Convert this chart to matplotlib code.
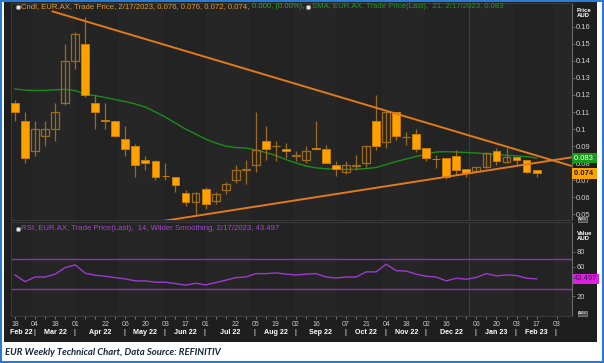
import numpy as np
import pandas as pd
import matplotlib
matplotlib.use("Agg")
import matplotlib.pyplot as plt
from matplotlib.patches import Rectangle
from matplotlib.lines import Line2D
from matplotlib.transforms import blended_transform_factory

plt.rcParams['font.family'] = ['Liberation Sans', 'DejaVu Sans']

# EUR.AX weekly candles, 18 Feb 2022 .. 17 Feb 2023
dates = pd.date_range('2022-02-18', periods=53, freq='W-FRI')
opens = [0.115, 0.105, 0.087, 0.096, 0.100, 0.115, 0.140, 0.150, 0.115, 0.1052,
         0.105, 0.094, 0.090, 0.082, 0.081, 0.0726, 0.072, 0.0625, 0.057, 0.065,
         0.058, 0.064, 0.070, 0.0762, 0.079, 0.093, 0.0898, 0.088, 0.0843, 0.082,
         0.089, 0.088, 0.079, 0.075, 0.0782, 0.080, 0.105, 0.0925, 0.110, 0.0953,
         0.097, 0.089, 0.0826, 0.083, 0.084, 0.0765, 0.0754, 0.0775, 0.087, 0.0805,
         0.0838, 0.0818, 0.076]
highs = [0.117, 0.110, 0.105, 0.105, 0.115, 0.150, 0.157, 0.166, 0.120, 0.115,
         0.105, 0.102, 0.091, 0.084, 0.082, 0.080, 0.072, 0.064, 0.063, 0.066,
         0.063, 0.069, 0.079, 0.082, 0.110, 0.102, 0.093, 0.092, 0.087, 0.090,
         0.105, 0.0906, 0.0815, 0.081, 0.0847, 0.0905, 0.120, 0.110, 0.110, 0.098,
         0.100, 0.089, 0.0847, 0.083, 0.0877, 0.0765, 0.078, 0.0865, 0.089, 0.089,
         0.0838, 0.0818, 0.076]
lows = [0.105, 0.080, 0.084, 0.090, 0.093, 0.114, 0.135, 0.119, 0.100, 0.100,
        0.0955, 0.084, 0.072, 0.076, 0.070, 0.070, 0.063, 0.055, 0.050, 0.053,
        0.056, 0.062, 0.0685, 0.068, 0.075, 0.082, 0.081, 0.083, 0.081, 0.080,
        0.0877, 0.080, 0.0726, 0.0736, 0.076, 0.078, 0.0877, 0.0887, 0.0935, 0.0906,
        0.0867, 0.081, 0.077, 0.0707, 0.073, 0.072, 0.0745, 0.0772, 0.079, 0.080,
        0.079, 0.074, 0.072]
closes = [0.110, 0.083, 0.100, 0.100, 0.110, 0.140, 0.156, 0.120, 0.110, 0.1048,
          0.096, 0.088, 0.079, 0.080, 0.072, 0.0722, 0.067, 0.057, 0.0625, 0.056,
          0.0617, 0.068, 0.076, 0.0766, 0.0877, 0.088, 0.0902, 0.087, 0.0847, 0.087,
          0.088, 0.080, 0.0765, 0.079, 0.0786, 0.090, 0.090, 0.110, 0.096, 0.0956,
          0.088, 0.083, 0.0822, 0.0717, 0.076, 0.074, 0.078, 0.086, 0.081, 0.0838,
          0.082, 0.075, 0.074]
sma21 = [0.1235, 0.1229, 0.1226, 0.1227, 0.1230, 0.1233, 0.1226, 0.1205, 0.1196, 0.1185,
         0.1173, 0.1161, 0.1147, 0.1129, 0.1100, 0.1070, 0.1035, 0.1000, 0.0971, 0.0941,
         0.0918, 0.0900, 0.0891, 0.0889, 0.0877, 0.0862, 0.0845, 0.0821, 0.0801, 0.0783,
         0.0772, 0.0767, 0.0764, 0.0763, 0.0764, 0.0768, 0.0774, 0.0792, 0.0809, 0.0824,
         0.0839, 0.0853, 0.0865, 0.0867, 0.0865, 0.0862, 0.0859, 0.0855, 0.0850, 0.0846,
         0.0842, 0.0838, 0.0830]
rsi14 = [48.8, 39.8, 46, 46, 49.8, 58.7, 62.3, 51.1, 48.4, 47,
         45.2, 43.5, 40.8, 40.8, 39, 39, 37.2, 35, 37.7, 35.4,
         38.5, 41.7, 45.2, 46, 50.6, 50.6, 51.5, 50, 48.8, 49.8,
         50.6, 46, 44.8, 46, 46, 52.9, 52.9, 63.3, 54.6, 54,
         49.8, 47, 46, 40.8, 44.4, 43, 45.5, 50.6, 47.5, 48.8,
         48, 44.4, 43.497]

# triangle trendlines (week index, price)
upper_x = [3.66, 55.5]
upper_y = [0.1692, 0.0783]
lower_x = [13.0, 55.5]
lower_y = [0.0444, 0.0834]

label_weeks = [0, 2, 4, 6, 9, 11, 13, 15, 17, 19, 22, 24, 26, 28, 30, 33, 35, 37,
               39, 41, 43, 46, 48, 50, 52, 54]

W, H = 604, 363
fig = plt.figure(figsize=(W / 100, H / 100), dpi=100, facecolor='white')


def fx(px):
    return px / W


def fy(py):
    return 1 - py / H


fig.patches.append(Rectangle((fx(4), fy(342)), fx(597) - fx(4), fy(1.5) - fy(342),
                             transform=fig.transFigure, facecolor='#1e1e1e',
                             edgecolor='none', zorder=-2))
fig.patches.append(Rectangle((fx(0.8), fy(362.2)), fx(603.2) - fx(0.8), fy(0.8) - fy(362.2),
                             transform=fig.transFigure, facecolor='none',
                             edgecolor='#2b7bd0', lw=1.5, zorder=-1))

ax = fig.add_axes([fx(11), fy(220), fx(572) - fx(11), fy(3) - fy(220)], zorder=1)
axr = fig.add_axes([fx(11), fy(316), fx(572) - fx(11), fy(222) - fy(316)], zorder=1)

x = np.arange(len(dates))
x0 = dates[0]
xlim = (-0.4, 55.53)


def week_idx(d):
    return (pd.Timestamp(d) - x0).days / 7


month_starts = pd.date_range('2022-02-01', '2023-04-01', freq='MS')

for a in (ax, axr):
    a.set_facecolor('#232323')
    a.set_xlim(*xlim)
    for k in range(len(month_starts) - 1):
        if k % 2 == 1:
            a.axvspan(week_idx(month_starts[k]), week_idx(month_starts[k + 1]),
                      color='#262626', lw=0, zorder=0)
    a.axvline(week_idx('2023-01-01'), color='#3c3c3c', lw=0.8, zorder=0.5)
    for s in ('top', 'bottom'):
        a.spines[s].set_color('#3a3a3a')
    a.spines['left'].set_color('#3a3a3a')
    a.spines['right'].set_color('#6a6a6a')
    a.yaxis.tick_right()
    a.tick_params(axis='y', colors='#6a6a6a', length=2, width=0.6, pad=1,
                  labelsize=5.5, labelcolor='#d0d0d0')

# ---- price panel
ax.set_ylim(0.0466, 0.174)
ax.plot(x, sma21, color='#1c8c1c', lw=1.0, zorder=2)

up_edge = '#9c6b22'
for i in x:
    o, h, l, c = opens[i], highs[i], lows[i], closes[i]
    ax.vlines(i, l, h, color=up_edge, lw=0.9, zorder=3)
    lo, hi = min(o, c), max(o, c)
    if c < o:
        ax.bar(i, hi - lo, bottom=lo, width=0.78, color='#ffa200',
               edgecolor='#c77c00', lw=0.7, zorder=3.5)
    else:
        ax.bar(i, hi - lo, bottom=lo, width=0.78, color='none',
               edgecolor=up_edge, lw=0.9, zorder=3.5)

ax.plot(upper_x, upper_y, color='#e07a1c', lw=1.4, zorder=4, solid_capstyle='butt')
ax.plot(lower_x, lower_y, color='#e07a1c', lw=1.4, zorder=4, solid_capstyle='butt')

pt = np.arange(0.05, 0.165, 0.01)
ax.set_yticks(pt)
ax.set_yticklabels([f"{v:.2f}".rstrip('0') for v in pt])
ax.set_xticks([])

yt = ax.get_yaxis_transform()
ax.text(1.004, sma21[-1], '0.083 ', transform=yt, fontsize=5.5, color='white',
        va='center', ha='left', clip_on=False, zorder=10,
        bbox=dict(boxstyle='square,pad=0.25', fc='#1a9a1a', ec='none'))
ax.text(1.004, closes[-1], '0.074 ', transform=yt, fontsize=5.5, color='#202020',
        va='center', ha='left', clip_on=False, zorder=10, fontweight='bold',
        bbox=dict(boxstyle='square,pad=0.25', fc='#ffa200', ec='none'))
fig.text(fx(577), fy(13), 'Price\nAUD', fontsize=4.3, fontweight='bold', color='white',
         va='center', ha='left', linespacing=1.15)

# ---- RSI panel
axr.set_ylim(-6.4, 120)
axr.axhline(70, color='#8e2fb8', lw=1.0, zorder=2)
axr.axhline(30, color='#8e2fb8', lw=1.0, zorder=2)
axr.plot(x, rsi14, color='#9a3bd0', lw=1.0, zorder=3)
axr.set_yticks([20, 40, 60, 80])
axr.set_yticklabels(['20', '', '60', '80'])
yr = axr.get_yaxis_transform()
axr.text(1.004, rsi14[-1], '43.497', transform=yr, fontsize=5.5, color='#202040',
         va='center', ha='left', clip_on=False, zorder=10,
         bbox=dict(boxstyle='square,pad=0.2', fc='#e020e0', ec='none'))
fig.text(fx(577), fy(236), 'Value\nAUD', fontsize=4.3, fontweight='bold', color='white',
         va='center', ha='left', linespacing=1.15)

axr.set_xticks(x, minor=True)
axr.set_xticks(label_weeks)
label_dates = pd.date_range(dates[0], periods=56, freq='W-FRI')
axr.set_xticklabels([label_dates[k].strftime('%d') for k in label_weeks])
axr.tick_params(axis='x', which='both', colors='#888888', length=2, width=0.6,
                pad=1.5, labelsize=5, labelcolor='#c8c8c8')

# month row with separators
mt = blended_transform_factory(axr.transData, fig.transFigure)
first_fri = [k for k in range(1, len(label_dates)) if label_dates[k].month != label_dates[k - 1].month]
edges = [xlim[0]] + first_fri
for k, e in enumerate(edges):
    if k > 0:
        fig.text(e - 0.1, fy(332), '|', transform=mt, fontsize=5.5, color='white',
                 ha='center', va='center')
    if k + 1 < len(edges):
        d = label_dates[max(int(np.ceil(e)), 0)]
        mid = (e + edges[k + 1]) / 2
        if k == 0:
            mid -= 0.2
        fig.text(mid, fy(332), d.strftime('%b %y'), transform=mt, fontsize=5.1,
                 fontweight='bold', color='white', ha='center', va='center')

# "Auto" buttons
for yy in (219.5, 313.5):
    fig.text(fx(582.5), fy(yy), 'Auto', fontsize=3.2, color='#dddddd', ha='center',
             va='center', zorder=5,
             bbox=dict(boxstyle='square,pad=0.12', fc='#505050', ec='#909090', lw=0.5))

# legend-style header lines
renderer = fig.canvas.get_renderer()


def header(y_px, parts):
    xp = 15.5
    fig.add_artist(Line2D([fx(xp + 2)], [fy(y_px)], marker='o', ms=3.2, mfc='#e8e8e8',
                          mec='#8a8a8a', mew=0.6, transform=fig.transFigure, zorder=5))
    xp += 5.5
    for s, c in parts:
        if s is None:
            fig.add_artist(Line2D([fx(xp + 2)], [fy(y_px)], marker='o', ms=3.2, mfc='#e8e8e8',
                                  mec='#8a8a8a', mew=0.6, transform=fig.transFigure, zorder=5))
            xp += 5.5
            continue
        t = fig.text(fx(xp), fy(y_px), s, fontsize=5.6, color=c, ha='left', va='center',
                     zorder=5)
        xp += t.get_window_extent(renderer).width


header(6.5, [('Cndl, EUR.AX, Trade Price, 2/17/2023, 0.076, 0.076, 0.072, 0.074, ', '#e39a35'),
             ('0.000, (0.00%), ', '#22b022'), (None, None),
             ('SMA, EUR.AX, Trade Price(Last),  21, 2/17/2023, 0.083', '#1f9a1f')])
header(228.5, [('RSI, EUR.AX, Trade Price(Last),  14, Wilder Smoothing, 2/17/2023, 43.497', '#a545d6')])

fig.text(fx(5), fy(352.5), 'EUR Weekly Technical Chart, Data Source: REFINITIV',
         fontsize=6.8, fontweight='bold', fontstyle='italic', color='#16213a',
         family=['Lato', 'DejaVu Sans'], ha='left', va='center')

fig.savefig('out.png', dpi=100, facecolor='white')
